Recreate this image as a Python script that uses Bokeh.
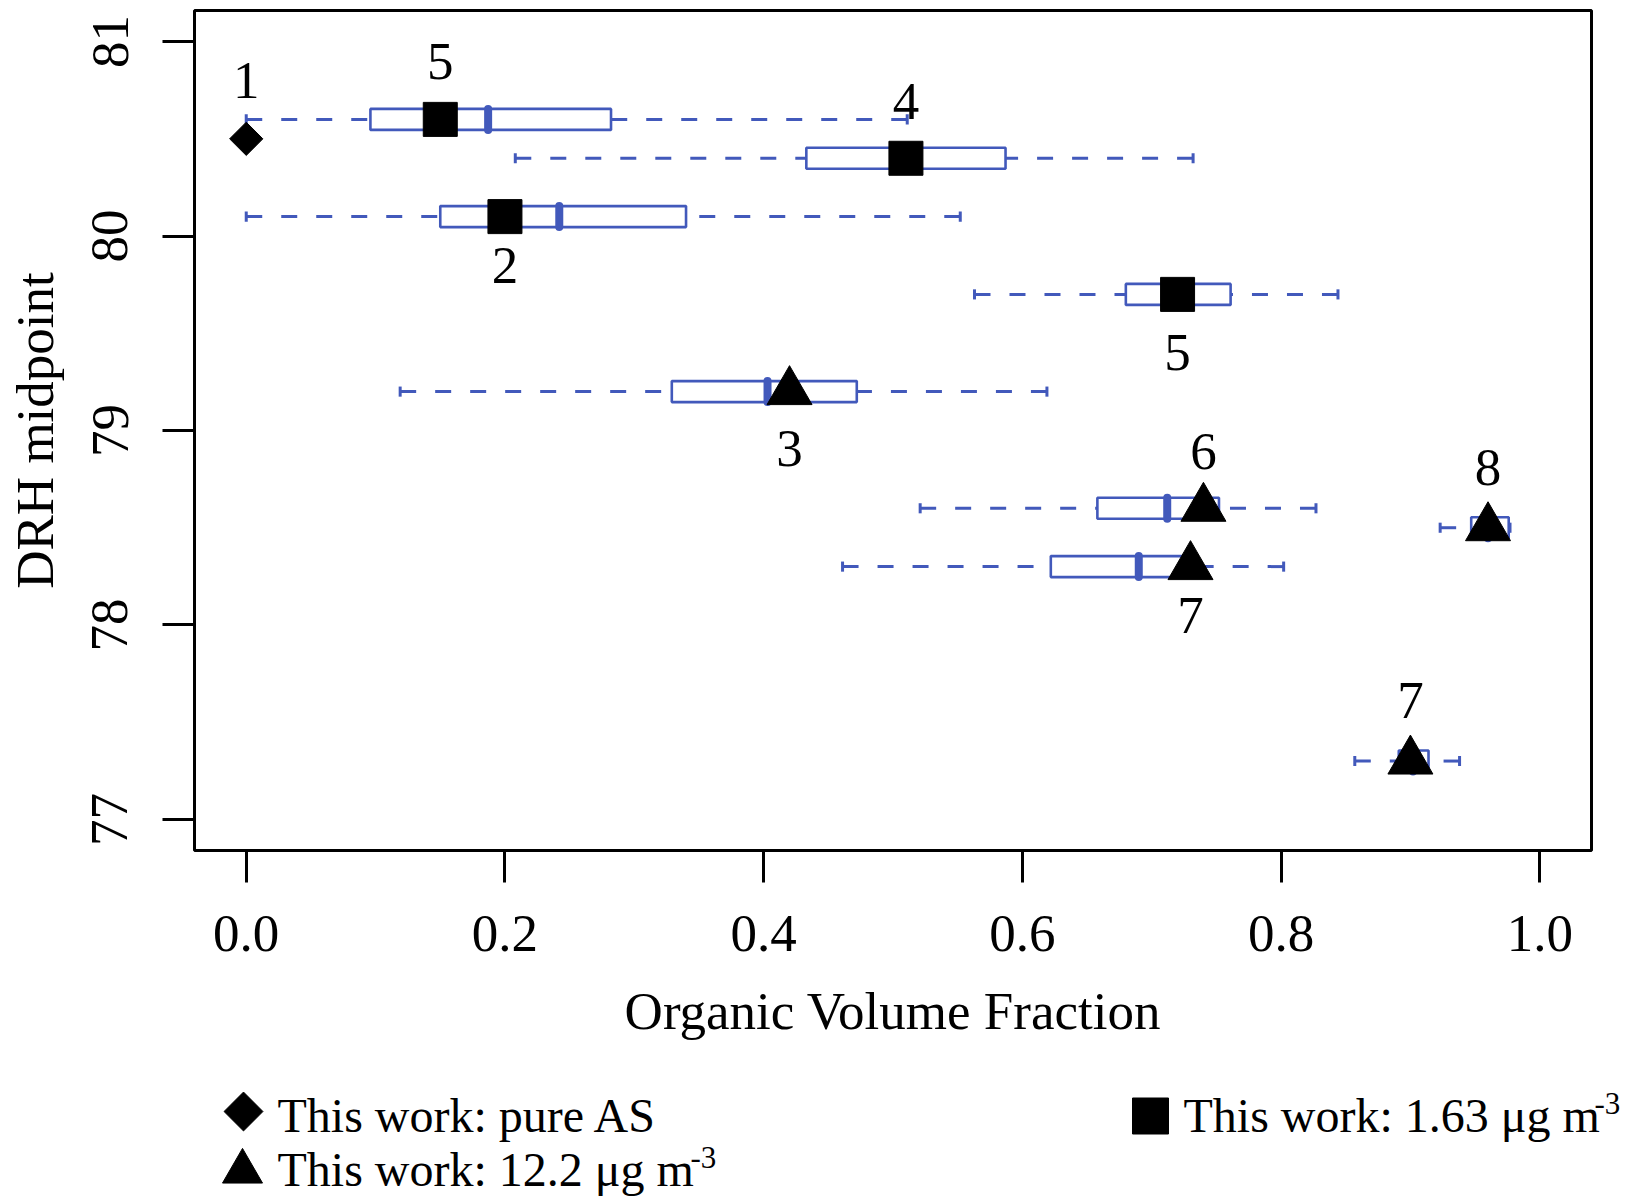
import numpy as np
from bokeh.plotting import figure
from bokeh.models import Range1d, FixedTicker
from bokeh.embed import file_html
from bokeh.resources import INLINE
from bokeh.core.properties import value

# ---------------- data ----------------
# box-plot summaries of organic volume fraction at each DRH midpoint
box_drh = [80.6, 80.4, 80.1, 79.7, 79.2, 78.6, 78.3, 78.5, 77.3]
box_low = [0.000, 0.208, 0.000, 0.563, 0.119, 0.521, 0.461, 0.923, 0.857]
box_q1 = [0.096, 0.433, 0.150, 0.680, 0.329, 0.658, 0.622, 0.947, 0.891]
box_med = [0.187, 0.510, 0.242, 0.720, 0.403, 0.712, 0.690, 0.960, 0.902]
box_q3 = [0.282, 0.587, 0.340, 0.761, 0.472, 0.752, 0.728, 0.976, 0.914]
box_high = [0.511, 0.732, 0.552, 0.844, 0.619, 0.827, 0.802, 0.977, 0.938]

# this work
pure_x = [0.0]
pure_y = [80.5]
low_x = [0.15, 0.51, 0.20, 0.72]
low_y = [80.6, 80.4, 80.1, 79.7]
high_x = [0.42, 0.74, 0.73, 0.96, 0.90]
high_y = [79.2, 78.6, 78.3, 78.5, 77.3]

# reference numbers written next to the points
ref_labels = ["1", "5", "4", "2", "5", "3", "6", "7", "8", "7"]
ref_label_x = [0.0, 0.15, 0.51, 0.20, 0.72, 0.42, 0.74, 0.73, 0.96, 0.90]
ref_label_y = [80.80, 80.90, 80.69, 79.85, 79.40, 78.91, 78.89, 78.05, 78.81, 77.61]

x_ticks = [0, 0.2, 0.4, 0.6, 0.8, 1.0]
x_tick_labels = ["0.0", "0.2", "0.4", "0.6", "0.8", "1.0"]
y_ticks = [77, 78, 79, 80, 81]
y_tick_labels = ["77", "78", "79", "80", "81"]

legend_labels = ["This work: pure AS", "This work: 1.63 \u03bcg m", "This work: 12.2 \u03bcg m"]
legend_sup = ["-3", "-3"]

# ---------------- style ----------------
FONT = "Liberation Serif"
BLUE = "#4259bb"
BOX_H = 0.108
CAP_H = 0.026

FL, FW, FT, FH = 194, 1397, 10, 840      # frame left / width / top / height (px)
BOTTOM = 220
p = figure(frame_width=FW, frame_height=FH,
           x_range=Range1d(-0.04, 1.04), y_range=Range1d(76.84, 81.16),
           output_backend="svg", toolbar_location=None,
           min_border_left=FL, min_border_right=27, min_border_top=FT, min_border_bottom=BOTTOM)
p.grid.visible = False
p.outline_line_color = "black"
p.outline_line_width = 3
p.outline_line_alpha = 1.0
p.background_fill_color = "white"

# whiskers (dashed, drawn from extreme toward box)
p.segment(x0=box_low, y0=box_drh, x1=box_q1, y1=box_drh, line_color=BLUE, line_width=3, line_dash="16 19")
p.segment(x0=box_high, y0=box_drh, x1=box_q3, y1=box_drh, line_color=BLUE, line_width=3, line_dash="16 19")
# whisker caps
lo_y = [y - CAP_H for y in box_drh]
hi_y = [y + CAP_H for y in box_drh]
p.segment(x0=box_low, y0=lo_y, x1=box_low, y1=hi_y, line_color=BLUE, line_width=3)
p.segment(x0=box_high, y0=lo_y, x1=box_high, y1=hi_y, line_color=BLUE, line_width=3)
# boxes
p.hbar(y=box_drh, left=box_q1, right=box_q3, height=BOX_H, fill_color="white",
       line_color=BLUE, line_width=2.6)
# medians
med_lo = [y - BOX_H / 2 for y in box_drh]
med_hi = [y + BOX_H / 2 for y in box_drh]
p.segment(x0=box_med, y0=med_lo, x1=box_med, y1=med_hi, line_color=BLUE, line_width=8, line_cap="round")

# this-work markers
p.scatter(pure_x, pure_y, marker="square", size=23.5, angle=np.pi / 4, color="black")
p.scatter(low_x, low_y, marker="square", size=34, color="black")
p.scatter(high_x, high_y, marker="triangle", size=45, color="black")

p.text(x=ref_label_x, y=ref_label_y, text=ref_labels, text_font=value(FONT),
       text_font_size="53px", text_align="center", text_baseline="middle", text_color="black")

# axes
p.xaxis.ticker = FixedTicker(ticks=x_ticks)
p.xaxis.major_label_overrides = dict(zip(x_ticks, x_tick_labels))
p.yaxis.ticker = FixedTicker(ticks=y_ticks)
p.yaxis.major_label_overrides = dict(zip(y_ticks, y_tick_labels))
p.xaxis.axis_label = "Organic Volume Fraction"
p.yaxis.axis_label = "DRH midpoint"
for ax in (p.xaxis[0], p.yaxis[0]):
    ax.axis_line_color = None
    ax.major_tick_line_color = "black"
    ax.major_tick_line_width = 3
    ax.major_tick_out = 32
    ax.major_tick_in = 0
    ax.minor_tick_line_color = None
    ax.major_label_text_font = FONT
    ax.major_label_text_font_size = "53px"
    ax.major_label_text_color = "black"
    ax.axis_label_text_font = FONT
    ax.axis_label_text_font_size = "53px"
    ax.axis_label_text_font_style = "normal"
    ax.axis_label_text_color = "black"
p.yaxis.major_label_orientation = "vertical"
p.xaxis.major_label_standoff = 33
p.xaxis.axis_label_standoff = 28
p.yaxis.major_label_standoff = 35
p.yaxis.axis_label_standoff = 26

# ---------------- legend (its own panel below, page-pixel coordinates) ----------------
TOP = FT + FH + BOTTOM                 # page y where the legend panel starts
LW, LH = 1630, 127
leg = figure(width=LW, height=LH, x_range=Range1d(0, LW), y_range=Range1d(TOP + LH, TOP),
             output_backend="svg", toolbar_location=None, min_border=0,
             x_axis_location=None, y_axis_location=None)
leg.grid.visible = False
leg.outline_line_color = None

leg.scatter([243], [1111], marker="square", size=27.5, angle=np.pi / 4, color="black")
leg.scatter([242], [1171], marker="triangle", size=40, color="black")
leg.scatter([1150], [1115.5], marker="square", size=36, color="black")

leg.text(x=[277, 1183, 277], y=[1115, 1115, 1169], text=legend_labels, text_font=value(FONT),
         text_font_size="48px", text_align="left", text_baseline="middle", text_color="black")
leg.text(x=[1594, 690], y=[1103, 1157], text=legend_sup, text_font=value(FONT),
         text_font_size="31px", text_align="left", text_baseline="middle", text_color="black")

open("out.html", "w").write(file_html([p, leg], INLINE))
